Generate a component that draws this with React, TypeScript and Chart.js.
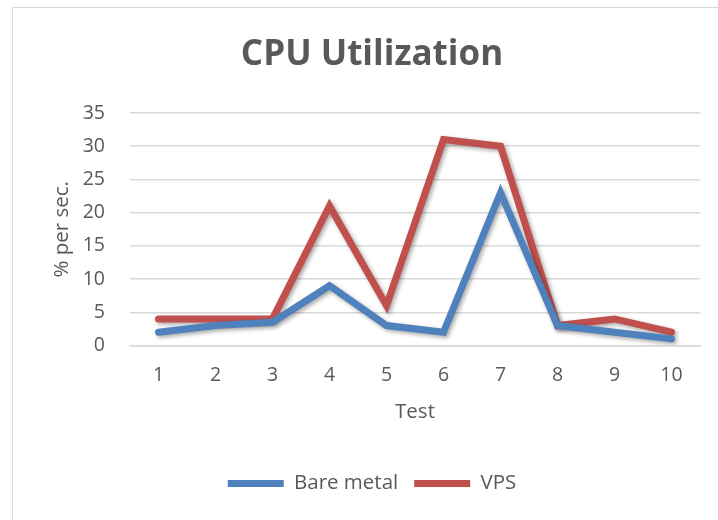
import React, { useEffect, useRef } from "react";
import { Chart, registerables } from "chart.js";

Chart.register(...registerables);

const categories = ["1", "2", "3", "4", "5", "6", "7", "8", "9", "10"];
const bareMetal = [2, 3, 3.5, 9, 3, 2, 23, 3, 2, 1];
const vps = [4, 4, 4, 21, 6, 31, 30, 3, 4, 2];

const FONT = "'Open Sans', 'Noto Sans', sans-serif";
const TEXT = "#595959";
const BLUE = "#4F81BD";
const RED = "#C0504D";

const shadowPlugin = {
  id: "lineShadow",
  beforeDatasetsDraw(chart: any) {
    const ctx = chart.ctx;
    ctx.save();
    ctx.shadowColor = "rgba(0,0,0,0.35)";
    ctx.shadowBlur = 4;
    ctx.shadowOffsetX = 2;
    ctx.shadowOffsetY = 2;
  },
  afterDatasetsDraw(chart: any) {
    chart.ctx.restore();
  },
};

export default function App() {
  const ref = useRef<HTMLCanvasElement | null>(null);
  useEffect(() => {
    if (!ref.current) return;
    const chart = new Chart(ref.current, {
      type: "line",
      data: {
        labels: categories,
        datasets: [
          {
            label: "Bare metal",
            data: bareMetal,
            borderColor: BLUE,
            backgroundColor: BLUE,
            borderWidth: 7,
            pointRadius: 0,
            borderCapStyle: "round",
            borderJoinStyle: "miter",
            tension: 0,
          },
          {
            label: "VPS",
            data: vps,
            borderColor: RED,
            backgroundColor: RED,
            borderWidth: 7,
            pointRadius: 0,
            borderCapStyle: "round",
            borderJoinStyle: "miter",
            tension: 0,
          },
        ],
      },
      options: {
        animation: false,
        responsive: false,
        maintainAspectRatio: false,
        layout: { padding: { left: 0, right: 0, top: 0, bottom: 16.25 } },
        plugins: {
          title: {
            display: true,
            text: "CPU Utilization",
            color: TEXT,
            font: { family: FONT, size: 35, weight: "bold" },
            padding: { top: 26, bottom: 37 },
          },
          legend: {
            position: "bottom",
            labels: {
              color: TEXT,
              font: { family: FONT, size: 20.5 },
              boxWidth: 56,
              boxHeight: 7,
              useBorderRadius: true,
              borderRadius: 3.5,
              padding: 16,
              generateLabels: (c: any) =>
                c.data.datasets.map((d: any, i: number) => ({
                  text: d.label,
                  fillStyle: d.borderColor,
                  strokeStyle: d.borderColor,
                  lineWidth: 0,
                  fontColor: TEXT,
                  datasetIndex: i,
                  hidden: false,
                })),
            },
          },
          tooltip: { enabled: false },
        },
        scales: {
          x: {
            offset: true,
            grid: { display: false, drawTicks: false },
            border: { color: "#d9d9d9", width: 1.5 },
            ticks: { color: TEXT, font: { family: FONT, size: 19.5 }, padding: 18 },
            title: {
              display: true,
              text: "Test",
              color: TEXT,
              font: { family: FONT, size: 20.5 },
              padding: { top: 0, bottom: 32.45 },
            },
            afterFit: (s: any) => {
              s.height = 111.75;
            },
          },
          y: {
            min: 0,
            max: 35,
            ticks: { stepSize: 5, color: TEXT, font: { family: FONT, size: 19.5 }, padding: 25 },
            grid: { color: "#d9d9d9", lineWidth: 1.5, drawTicks: false },
            border: { display: false },
            title: {
              display: true,
              text: "% per sec.",
              color: TEXT,
              font: { family: FONT, size: 20.5 },
              padding: { top: 37, bottom: 0 },
            },
            afterFit: (s: any) => {
              s.width = 117;
            },
          },
          yRight: {
            type: "linear",
            position: "right",
            display: true,
            ticks: { display: false },
            grid: { display: false, drawTicks: false },
            border: { display: false },
            afterFit: (s: any) => {
              s.width = 31;
            },
          },
        },
      },
      plugins: [shadowPlugin],
    });
    return () => chart.destroy();
  }, []);
  return (
    <div
      style={{
        position: "absolute",
        left: 12,
        top: 7,
        width: 730,
        height: 530,
        border: "1.5px solid #d9d9d9",
        background: "#fff",
      }}
    >
      <canvas ref={ref} width={718} height={512} style={{ display: "block" }} />
    </div>
  );
}
